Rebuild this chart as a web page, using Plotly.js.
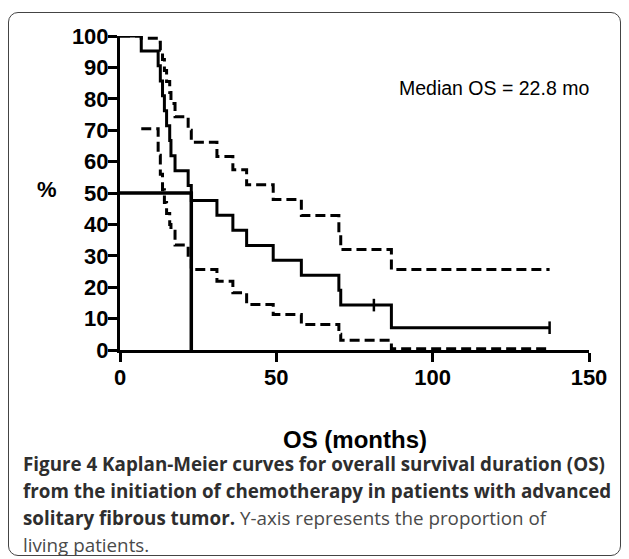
<!DOCTYPE html>
<html>
<head>
<meta charset="utf-8">
<script src="https://cdn.plot.ly/plotly-3.0.1.min.js"></script>
<style>
  html, body { margin: 0; padding: 0; background: #fff; }
  #wrap { position: relative; width: 629px; height: 559px; }
  #chart { position: absolute; left: 0; top: 0; width: 629px; height: 559px; }
  #frame { position: absolute; left: 8px; top: 12px; width: 613px; height: 544px;
           box-sizing: border-box; border: 1.5px solid #444; border-radius: 10px; pointer-events: none; }
</style>
</head>
<body>
<div id="wrap"><div id="chart"></div><div id="frame"></div></div>
<script>
// ---- data ----
const months   = [0, 6.8, 12.2, 12.9, 13.6, 14.2, 14.9, 15.9, 16.3, 17.6, 21.8, 22.8, 31.0, 36.1, 40.5, 49.0, 58.0, 70.0, 70.6, 86.8, 137.4];
const survival = [100, 95.2, 90.5, 85.7, 81.0, 76.2, 71.4, 66.7, 61.9, 57.1, 52.4, 47.6, 42.9, 38.1, 33.3, 28.6, 23.8, 19.0, 14.3, 7.1, 7.1];
const upperCI  = [100, 99.3, 98.0, 95.5, 92.5, 89.0, 85.5, 82.0, 78.5, 74.3, 70.0, 66.2, 61.6, 57.4, 52.6, 47.9, 42.8, 37.5, 32.0, 25.6, 25.6];
const lowerCI  = [null, 70.5, 62.0, 56.0, 51.0, 47.0, 43.5, 40.0, 37.8, 33.4, 29.0, 25.6, 21.9, 18.2, 14.5, 11.3, 8.1, 5.0, 3.1, 0.4, 0.4];
const censorMonths = [81.2, 137.4];
const censorSurv   = [14.3, 7.1];
const medianX = [0, 22.8, 22.8];
const medianY = [50, 50, 0];
const xTicks = [0, 50, 100, 150];
const yTicks = [0, 10, 20, 30, 40, 50, 60, 70, 80, 90, 100];
const medianLabel = "Median OS = 22.8 mo";
const captionLines = [
  "<b>Figure 4 Kaplan-Meier curves for overall survival duration (OS)</b>",
  "<b>from the initiation of chemotherapy in patients with advanced</b>",
  "<b>solitary fibrous tumor.</b> <span style='color:#4a4a4a'>Y-axis represents the proportion of</span>",
  "<span style='color:#4a4a4a'>living patients.</span>"
];

// ---- layout geometry (pixels) ----
const W = 629, H = 559;
const L = 120, R = 589, T = 36, B = 350.5;
const px = v => (v - L) / (R - L);
const py = v => (B - v) / (B - T);
const ff = "Liberation Sans, Arial, Helvetica, sans-serif";
const capFont = "Open Sans, Noto Sans, sans-serif";

const dash = "10px,5px";
const traces = [
  { x: months, y: upperCI, mode: "lines", line: { shape: "hv", color: "#000", width: 3, dash: dash }, cliponaxis: false, hoverinfo: "skip" },
  { x: months, y: lowerCI, mode: "lines", line: { shape: "hv", color: "#000", width: 3, dash: dash }, cliponaxis: false, connectgaps: false, hoverinfo: "skip" },
  { x: months, y: survival, mode: "lines", line: { shape: "hv", color: "#000", width: 3 }, cliponaxis: false },
  { x: censorMonths, y: censorSurv, mode: "markers", marker: { symbol: "line-ns-open", size: 9, color: "#000", line: { width: 2.5, color: "#000" } }, cliponaxis: false },
  { x: medianX, y: medianY, mode: "lines", line: { color: "#000", width: 3.5 }, cliponaxis: false }
];

const annotations = [
  { text: "<b>%</b>", x: px(47), y: py(190), xref: "paper", yref: "paper", showarrow: false, xanchor: "center", yanchor: "middle", font: { family: ff, size: 22, color: "#000" } },
  { text: "<b>OS (months)</b>", x: px(354.5), y: py(440), xref: "paper", yref: "paper", showarrow: false, xanchor: "center", yanchor: "middle", font: { family: ff, size: 24, color: "#000" } },
  { text: medianLabel, x: px(397), y: py(88), xref: "paper", yref: "paper", showarrow: false, xanchor: "left", yanchor: "middle", font: { family: ff, size: 19.5, color: "#000" } }
];
const capY = [465, 492, 519, 546];
captionLines.forEach((t, i) => annotations.push({
  text: t, x: px(21), y: py(capY[i]), xref: "paper", yref: "paper", showarrow: false,
  xanchor: "left", yanchor: "middle", font: { family: capFont, size: 18.8, color: "#2e2e2e" }
}));

const axisCommon = {
  showgrid: false, zeroline: false, showline: true, linecolor: "#000", linewidth: 3,
  ticks: "outside", ticklen: 9, tickwidth: 3, tickcolor: "#000",
  tickfont: { family: ff, size: 22, color: "#000", weight: "bold" }, fixedrange: true
};

const layout = {
  width: W, height: H,
  margin: { l: L, r: W - R, t: T, b: H - B, pad: 0 },
  paper_bgcolor: "#fff", plot_bgcolor: "#fff",
  showlegend: false,
  xaxis: Object.assign({}, axisCommon, { range: [0, 150], tickvals: xTicks, ticktext: xTicks.map(String), ticklabelstandoff: -3 }),
  yaxis: Object.assign({}, axisCommon, { range: [0, 100], tickvals: yTicks, ticktext: yTicks.map(String), ticklabelstandoff: -5 }),
  annotations: annotations
};

Plotly.newPlot("chart", traces, layout, { staticPlot: true, displayModeBar: false });
</script>
</body>
</html>
